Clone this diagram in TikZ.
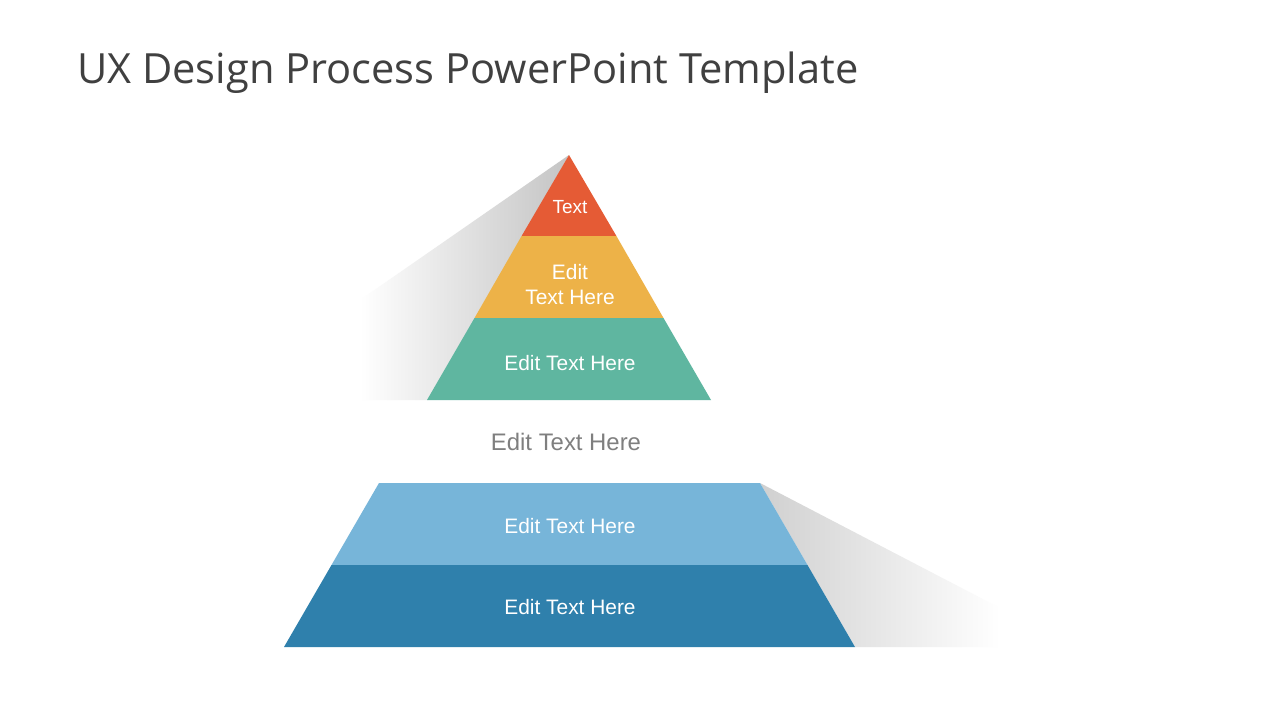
\documentclass[tikz,border=0pt]{standalone}
\usepackage{fontspec}
\setmainfont{Liberation Sans}
\newfontfamily\titlefont{Open Sans}
\usetikzlibrary{shadings}
\definecolor{cRed}{HTML}{E55B35}
\definecolor{cYel}{HTML}{EDB248}
\definecolor{cGrn}{HTML}{5FB6A0}
\definecolor{cLBl}{HTML}{77B5D9}
\definecolor{cDBl}{HTML}{2F80AC}
\definecolor{cTitle}{HTML}{404040}
\definecolor{cMid}{HTML}{7F7F7F}
\definecolor{cShadow}{HTML}{C4C4C4}
\begin{document}
\begin{tikzpicture}[x=1pt,y=-1pt,
  lbl/.style={text=white,font=\fontsize{20.9}{25}\selectfont,align=center,inner sep=0pt}]
\useasboundingbox[fill=white] (0,0) rectangle (1280,720);
% title
\node[anchor=base west,inner sep=0pt,text=cTitle,font=\titlefont\fontsize{41.6}{48}\selectfont] (title) at (77,83) {UX Design Process PowerPoint Template};
% shadows
\shade[left color=white,right color=cShadow] (569,155) -- (360,300) -- (360,400) -- (428,400) -- cycle;
\shade[left color=cShadow!80,right color=white] (760,483) -- (1000,608) -- (1000,647) -- (855,647) -- cycle;
% top pyramid
\fill[cRed] (569,155) -- (616.4,236) -- (521.6,236) -- cycle;
\fill[cYel] (521.6,236) -- (616.4,236) -- (663.5,318) -- (474.5,318) -- cycle;
\fill[cGrn] (474.5,318) -- (663.5,318) -- (711,400) -- (427,400) -- cycle;
% bottom
\fill[cLBl] (379,483) -- (760,483) -- (807.5,565) -- (331.5,565) -- cycle;
\fill[cDBl] (331.5,565) -- (807.5,565) -- (855,647) -- (284,647) -- cycle;
% labels
\node[lbl,font=\fontsize{19}{22}\selectfont] (l1) at (570,207) {Text};
\node[lbl] (l2) at (570,285) {Edit\\Text Here};
\node[lbl] (l3) at (570,363) {Edit Text Here};
\node[lbl,text=cMid,font=\fontsize{23.9}{28}\selectfont] (l4) at (566,442) {Edit Text Here};
\node[lbl] (l5) at (570,526) {Edit Text Here};
\node[lbl] (l6) at (570,607) {Edit Text Here};
\end{tikzpicture}
\end{document}
